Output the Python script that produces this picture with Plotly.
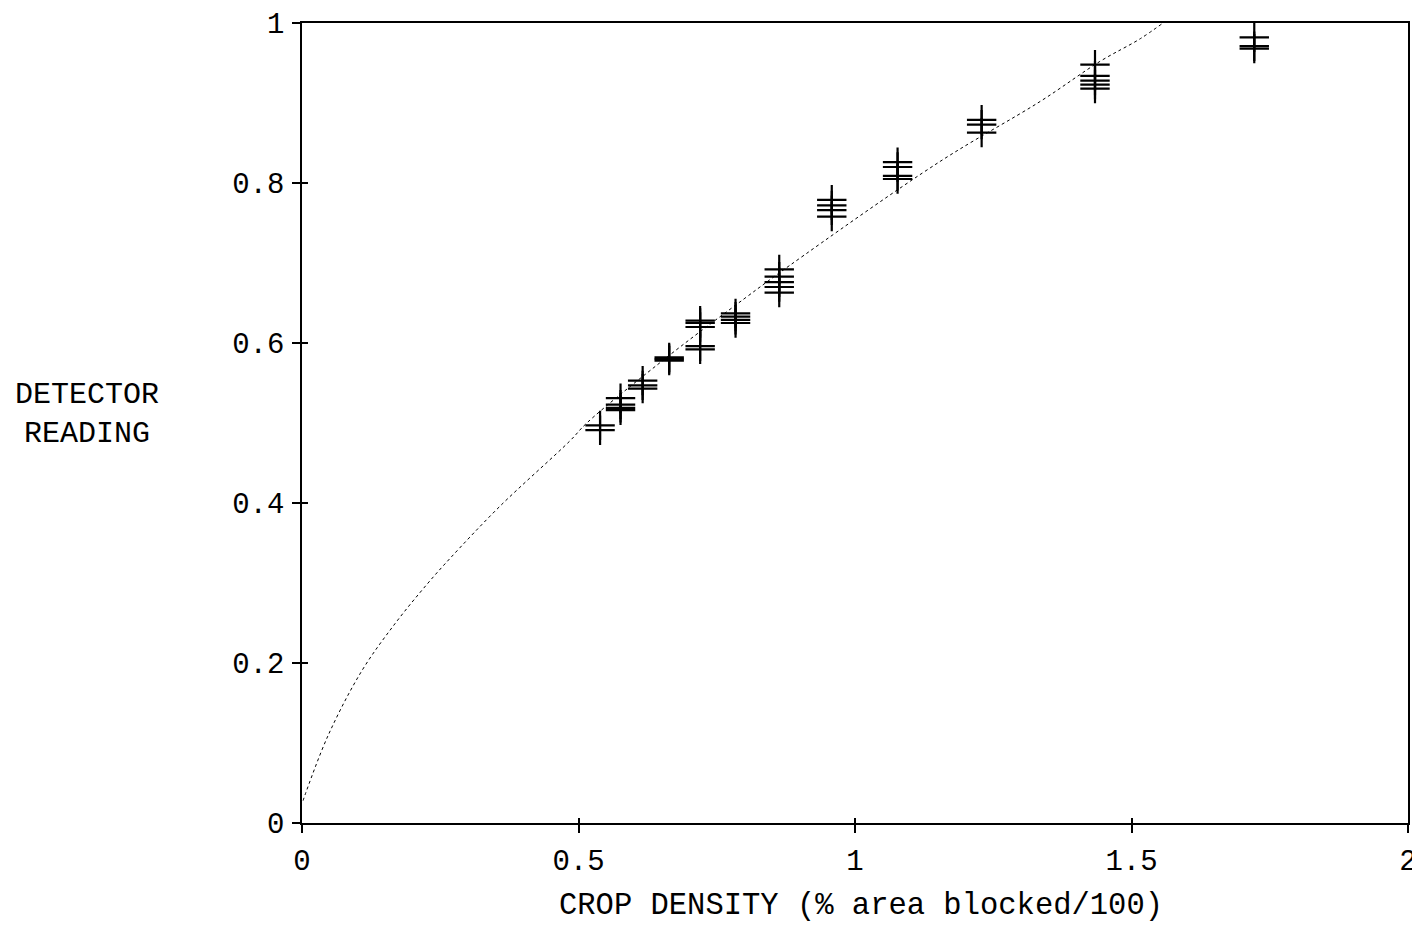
import plotly.graph_objects as go

# Measured detector readings (replicates at each crop density)
density = [0.539, 0.539,
           0.576, 0.576, 0.576, 0.576,
           0.616, 0.616, 0.616,
           0.664, 0.664, 0.664,
           0.720, 0.720, 0.720, 0.720, 0.720,
           0.784, 0.784, 0.784, 0.784,
           0.863, 0.863, 0.863, 0.863, 0.863,
           0.958, 0.958, 0.958, 0.958,
           1.077, 1.077, 1.077, 1.077,
           1.229, 1.229, 1.229,
           1.434, 1.434, 1.434, 1.434, 1.434,
           1.722, 1.722, 1.722]
reading = [0.497, 0.491,
           0.531, 0.523, 0.519, 0.516,
           0.553, 0.547, 0.543,
           0.582, 0.580, 0.578,
           0.628, 0.625, 0.620, 0.596, 0.592,
           0.637, 0.633, 0.629, 0.625,
           0.692, 0.683, 0.676, 0.670, 0.663,
           0.779, 0.772, 0.766, 0.758,
           0.826, 0.820, 0.809, 0.805,
           0.879, 0.873, 0.863,
           0.948, 0.934, 0.928, 0.923, 0.918,
           0.982, 0.971, 0.968]

# Fitted curve
curve_x = [0.002, 0.0054, 0.0476, 0.108, 0.168, 0.228, 0.268, 0.358, 0.485, 0.515,
           0.665, 0.801, 0.882, 1.154, 1.335, 1.443, 1.515, 1.557]
curve_y = [0.028, 0.035, 0.110, 0.190, 0.249, 0.300, 0.331, 0.396, 0.478, 0.500,
           0.585, 0.656, 0.697, 0.827, 0.902, 0.952, 0.980, 1.0]

x_ticks = [0, 0.5, 1, 1.5, 2]
x_tick_text = ["0", "0.5", "1", "1.5", "2"]
y_ticks = [0, 0.2, 0.4, 0.6, 0.8, 1]
y_tick_text = ["0", "0.2", "0.4", "0.6", "0.8", "1"]

FONT = "Liberation Mono"

fig = go.Figure()
fig.add_trace(go.Scatter(
    x=curve_x, y=curve_y, mode="lines",
    line=dict(color="black", width=1, dash="dot", shape="spline"),
    showlegend=False, hoverinfo="skip"))
fig.add_trace(go.Scatter(
    x=density, y=reading, mode="markers",
    marker=dict(symbol="cross-thin", size=21, line=dict(color="black", width=2.2)),
    showlegend=False))

# inner half of crossing ticks
fig.add_trace(go.Scatter(x=[None], y=[None], xaxis="x2", yaxis="y2", showlegend=False))

axis_common = dict(showgrid=False, zeroline=False, showline=True, linecolor="black",
                   linewidth=1.5, mirror=True, ticks="outside", ticklen=8,
                   tickcolor="black", tickwidth=1.5, automargin=False,
                   tickfont=dict(family=FONT, size=29, color="black"))

# page body has an 8px margin; the figure is sized so the plot lands where the reference has it
fig.update_layout(
    width=1412, height=916,
    margin=dict(l=294, r=12, t=15, b=101),
    paper_bgcolor="white", plot_bgcolor="white",
    xaxis=dict(range=[0, 2], tickvals=x_ticks, ticktext=x_tick_text,
               ticklabelstandoff=2, **axis_common),
    yaxis=dict(range=[0, 1], tickvals=y_ticks, ticktext=y_tick_text,
               ticklabelstandoff=2, **axis_common),
    xaxis2=dict(range=[0, 2], overlaying="x", tickvals=x_ticks, showticklabels=False,
                ticks="inside", ticklen=5, tickcolor="black", tickwidth=1.5,
                showgrid=False, zeroline=False, showline=False, automargin=False),
    yaxis2=dict(range=[0, 1], overlaying="y", tickvals=y_ticks, showticklabels=False,
                ticks="inside", ticklen=6, tickcolor="black", tickwidth=1.5,
                showgrid=False, zeroline=False, showline=False, automargin=False),
    annotations=[
        dict(text="DETECTOR<br>READING", xref="paper", yref="paper",
             x=-0.194, y=0.511, xanchor="center", yanchor="middle", showarrow=False,
             align="center", font=dict(family=FONT, size=30, color="black")),
        dict(text="CROP DENSITY (% area blocked/100)", xref="paper", yref="paper",
             x=0.505, y=-0.104, xanchor="center", yanchor="middle", showarrow=False,
             font=dict(family=FONT, size=30.5, color="black")),
    ],
)

fig.write_html("out.html")
